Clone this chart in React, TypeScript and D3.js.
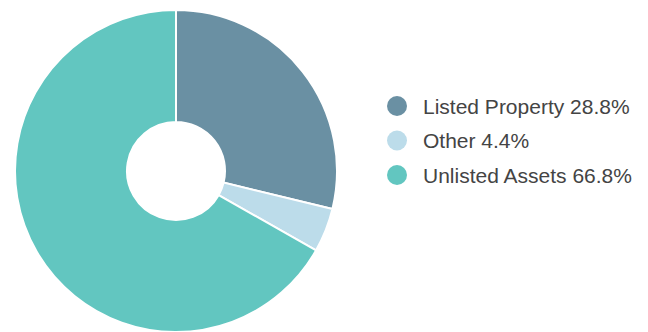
import React from "react";
import * as d3 from "d3";

const categories = ["Listed Property", "Other", "Unlisted Assets"];
const values = [28.8, 4.4, 66.8];
const colors = ["#6a90a3", "#bcdcea", "#62c6c0"];

export default function App() {
  const width = 648;
  const height = 332;
  const cx = 176;
  const cy = 171;
  const outer = 161;
  const inner = 49;
  const pie = d3.pie<number>().sort(null).value((d) => d);
  const arcs = pie(values);
  const arc = d3.arc<d3.PieArcDatum<number>>().innerRadius(inner).outerRadius(outer);
  const legendY = d3.scalePoint<string>().domain(categories).range([106, 175]);
  return (
    <svg width={width} height={height} style={{ position: "absolute", left: 0, top: 0 }}>
      <g transform={`translate(${cx},${cy})`}>
        {arcs.map((a, i) => (
          <path key={i} d={arc(a) || ""} fill={colors[i]} stroke="#fff" strokeWidth={2} />
        ))}
      </g>
      {categories.map((c, i) => (
        <g key={c} transform={`translate(0,${legendY(c)})`}>
          <circle cx={397} cy={0} r={10} fill={colors[i]} />
          <text x={423} y={0} dy="0.36em" fontFamily="Liberation Sans, Arial, sans-serif" fontSize={21} fill="#444">
            {`${c} ${values[i].toFixed(1)}%`}
          </text>
        </g>
      ))}
    </svg>
  );
}
